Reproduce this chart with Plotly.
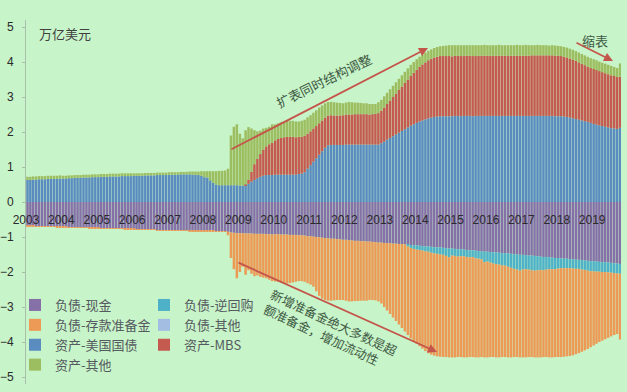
import pandas as pd
import plotly.graph_objects as go

# ---- categories: monthly observations Jan 2003 .. Oct 2019 ----
months = pd.date_range("2003-01-01", periods=202, freq="MS").strftime("%Y-%m-%d").tolist()
year_ticks = [f"{y}-01-01" for y in range(2003, 2020)]
year_labels = [str(y) for y in range(2003, 2020)]

# ---- assets (万亿美元) ----
treasuries = [
    0.63, 0.63, 0.64, 0.64, 0.65, 0.65, 0.65, 0.66, 0.66, 0.66, 0.66, 0.67,  # 2003
    0.67, 0.67, 0.68, 0.68, 0.69, 0.69, 0.69, 0.70, 0.70, 0.70, 0.71, 0.71,  # 2004
    0.71, 0.72, 0.72, 0.72, 0.73, 0.73, 0.73, 0.73, 0.74, 0.74, 0.74, 0.74,  # 2005
    0.75, 0.75, 0.75, 0.75, 0.76, 0.76, 0.76, 0.76, 0.77, 0.77, 0.77, 0.77,  # 2006
    0.78, 0.78, 0.78, 0.78, 0.79, 0.79, 0.79, 0.79, 0.78, 0.78, 0.77, 0.75,  # 2007
    0.71, 0.70, 0.62, 0.55, 0.50, 0.48, 0.48, 0.48, 0.48, 0.48, 0.48, 0.48,  # 2008
    0.47, 0.47, 0.48, 0.52, 0.58, 0.63, 0.68, 0.72, 0.75, 0.77, 0.77, 0.77,  # 2009
    0.78, 0.78, 0.78, 0.78, 0.78, 0.78, 0.78, 0.78, 0.80, 0.81, 0.85, 0.95,  # 2010
    1.05, 1.15, 1.25, 1.35, 1.45, 1.55, 1.62, 1.63, 1.63, 1.63, 1.63, 1.63,  # 2011
    1.64, 1.64, 1.64, 1.64, 1.64, 1.64, 1.64, 1.64, 1.64, 1.64, 1.64, 1.64,  # 2012
    1.68, 1.73, 1.78, 1.83, 1.88, 1.93, 1.98, 2.03, 2.08, 2.13, 2.18, 2.22,  # 2013
    2.26, 2.30, 2.33, 2.36, 2.39, 2.41, 2.43, 2.44, 2.45, 2.45, 2.45, 2.45,  # 2014
    2.45, 2.46, 2.46, 2.45, 2.46, 2.46, 2.46, 2.45, 2.46, 2.46, 2.46, 2.46,  # 2015
    2.46, 2.46, 2.46, 2.46, 2.46, 2.46, 2.46, 2.46, 2.46, 2.46, 2.46, 2.46,  # 2016
    2.46, 2.46, 2.46, 2.46, 2.46, 2.46, 2.46, 2.46, 2.46, 2.46, 2.46, 2.45,  # 2017
    2.45, 2.45, 2.44, 2.43, 2.41, 2.39, 2.37, 2.35, 2.33, 2.31, 2.29, 2.26,  # 2018
    2.23, 2.21, 2.19, 2.17, 2.15, 2.13, 2.11, 2.10, 2.09, 2.12,              # 2019
]
mbs = [0.0] * 72 + [
    0.00, 0.00, 0.02, 0.12, 0.28, 0.45, 0.55, 0.65, 0.75, 0.82, 0.88, 0.92,  # 2009
    0.98, 1.02, 1.05, 1.07, 1.08, 1.08, 1.08, 1.07, 1.06, 1.05, 1.04, 1.00,  # 2010
    0.97, 0.95, 0.92, 0.90, 0.88, 0.86, 0.85, 0.85, 0.84, 0.84, 0.84, 0.85,  # 2011
    0.86, 0.86, 0.86, 0.87, 0.87, 0.87, 0.87, 0.87, 0.86, 0.87, 0.88, 0.90,  # 2012
    0.93, 0.97, 1.02, 1.07, 1.12, 1.17, 1.22, 1.27, 1.32, 1.37, 1.42, 1.47,  # 2013
    1.52, 1.56, 1.60, 1.63, 1.66, 1.68, 1.70, 1.71, 1.72, 1.72, 1.72, 1.72,  # 2014
    1.71, 1.72, 1.72, 1.72, 1.71, 1.72, 1.72, 1.72, 1.71, 1.72, 1.72, 1.72,  # 2015
    1.72, 1.72, 1.71, 1.72, 1.72, 1.72, 1.72, 1.71, 1.72, 1.72, 1.72, 1.72,  # 2016
    1.72, 1.72, 1.72, 1.73, 1.73, 1.73, 1.73, 1.73, 1.73, 1.73, 1.73, 1.73,  # 2017
    1.73, 1.72, 1.71, 1.70, 1.69, 1.68, 1.66, 1.64, 1.62, 1.60, 1.58, 1.57,  # 2018
    1.57, 1.56, 1.55, 1.54, 1.53, 1.52, 1.51, 1.50, 1.48, 1.46,              # 2019
]
other_assets = [
    0.09, 0.09, 0.09, 0.09, 0.09, 0.09, 0.09, 0.09, 0.09, 0.09, 0.09, 0.09,  # 2003
    0.08, 0.08, 0.08, 0.08, 0.08, 0.08, 0.08, 0.08, 0.08, 0.08, 0.08, 0.08,  # 2004
    0.08, 0.08, 0.08, 0.08, 0.08, 0.08, 0.08, 0.08, 0.08, 0.08, 0.08, 0.08,  # 2005
    0.07, 0.07, 0.07, 0.07, 0.07, 0.07, 0.07, 0.07, 0.07, 0.07, 0.07, 0.07,  # 2006
    0.07, 0.07, 0.07, 0.07, 0.07, 0.07, 0.07, 0.08, 0.09, 0.09, 0.10, 0.13,  # 2007
    0.17, 0.18, 0.26, 0.33, 0.38, 0.41, 0.41, 0.42, 0.47, 1.42, 1.67, 1.74,  # 2008
    1.48, 1.35, 1.55, 1.50, 1.24, 0.97, 0.79, 0.67, 0.60, 0.53, 0.50, 0.53,  # 2009
    0.46, 0.45, 0.45, 0.45, 0.46, 0.46, 0.46, 0.45, 0.44, 0.46, 0.46, 0.47,  # 2010
    0.46, 0.45, 0.45, 0.45, 0.43, 0.41, 0.39, 0.38, 0.38, 0.37, 0.36, 0.34,  # 2011
    0.34, 0.36, 0.35, 0.33, 0.33, 0.32, 0.31, 0.31, 0.30, 0.29, 0.28, 0.31,  # 2012
    0.31, 0.32, 0.32, 0.32, 0.32, 0.32, 0.32, 0.32, 0.32, 0.32, 0.32, 0.31,  # 2013
    0.30, 0.29, 0.28, 0.28, 0.27, 0.27, 0.27, 0.28, 0.28, 0.29, 0.30, 0.31,  # 2014
    0.32, 0.30, 0.30, 0.31, 0.31, 0.30, 0.30, 0.31, 0.31, 0.30, 0.30, 0.31,  # 2015
    0.30, 0.30, 0.31, 0.30, 0.31, 0.30, 0.30, 0.31, 0.30, 0.30, 0.31, 0.30,  # 2016
    0.30, 0.31, 0.30, 0.29, 0.29, 0.30, 0.29, 0.29, 0.29, 0.28, 0.29, 0.29,  # 2017
    0.28, 0.28, 0.28, 0.28, 0.28, 0.28, 0.28, 0.28, 0.28, 0.28, 0.28, 0.28,  # 2018
    0.28, 0.28, 0.27, 0.27, 0.27, 0.27, 0.27, 0.26, 0.26, 0.38,              # 2019
]

# ---- liabilities (negative, 万亿美元) ----
currency = [
    -0.68, -0.68, -0.68, -0.69, -0.69, -0.69, -0.70, -0.70, -0.70, -0.70, -0.71, -0.71,  # 2003
    -0.71, -0.71, -0.72, -0.72, -0.72, -0.73, -0.73, -0.73, -0.73, -0.74, -0.74, -0.74,  # 2004
    -0.74, -0.75, -0.75, -0.75, -0.75, -0.76, -0.76, -0.76, -0.76, -0.77, -0.77, -0.77,  # 2005
    -0.77, -0.78, -0.78, -0.78, -0.79, -0.79, -0.79, -0.79, -0.80, -0.80, -0.80, -0.80,  # 2006
    -0.80, -0.80, -0.81, -0.81, -0.81, -0.81, -0.81, -0.82, -0.82, -0.82, -0.82, -0.82,  # 2007
    -0.82, -0.82, -0.82, -0.82, -0.83, -0.83, -0.83, -0.84, -0.85, -0.87, -0.88, -0.89,  # 2008
    -0.89, -0.89, -0.90, -0.90, -0.90, -0.91, -0.91, -0.91, -0.91, -0.92, -0.92, -0.93,  # 2009
    -0.92, -0.92, -0.93, -0.93, -0.93, -0.94, -0.94, -0.94, -0.95, -0.95, -0.96, -0.98,  # 2010
    -0.98, -0.99, -1.00, -1.01, -1.02, -1.03, -1.04, -1.05, -1.05, -1.06, -1.07, -1.08,  # 2011
    -1.08, -1.09, -1.10, -1.11, -1.11, -1.12, -1.12, -1.13, -1.13, -1.14, -1.15, -1.16,  # 2012
    -1.16, -1.17, -1.17, -1.18, -1.19, -1.19, -1.20, -1.20, -1.21, -1.22, -1.23, -1.24,  # 2013
    -1.24, -1.25, -1.26, -1.27, -1.27, -1.28, -1.29, -1.30, -1.30, -1.31, -1.32, -1.33,  # 2014
    -1.33, -1.34, -1.35, -1.35, -1.36, -1.37, -1.38, -1.38, -1.39, -1.40, -1.41, -1.42,  # 2015
    -1.42, -1.43, -1.44, -1.44, -1.45, -1.46, -1.46, -1.47, -1.48, -1.49, -1.50, -1.51,  # 2016
    -1.51, -1.52, -1.53, -1.53, -1.54, -1.55, -1.56, -1.57, -1.57, -1.58, -1.59, -1.60,  # 2017
    -1.60, -1.61, -1.62, -1.62, -1.63, -1.64, -1.65, -1.65, -1.66, -1.67, -1.68, -1.69,  # 2018
    -1.69, -1.70, -1.71, -1.72, -1.72, -1.73, -1.74, -1.75, -1.76, -1.77,                # 2019
]
reverse_repo = [0.0] * 120 + [
    0.00, 0.00, 0.00, 0.00, 0.00, 0.00, 0.00, 0.00, 0.00, -0.05, -0.08, -0.10,           # 2013
    -0.12, -0.12, -0.13, -0.14, -0.15, -0.17, -0.18, -0.18, -0.20, -0.20, -0.22, -0.25,  # 2014
    -0.20, -0.20, -0.21, -0.20, -0.19, -0.20, -0.20, -0.19, -0.22, -0.22, -0.23, -0.30,  # 2015
    -0.28, -0.30, -0.32, -0.33, -0.34, -0.35, -0.36, -0.38, -0.40, -0.42, -0.43, -0.45,  # 2016
    -0.42, -0.40, -0.40, -0.42, -0.42, -0.40, -0.38, -0.38, -0.36, -0.34, -0.33, -0.32,  # 2017
    -0.30, -0.28, -0.27, -0.27, -0.26, -0.26, -0.26, -0.26, -0.27, -0.27, -0.28, -0.29,  # 2018
    -0.29, -0.29, -0.28, -0.28, -0.28, -0.28, -0.28, -0.28, -0.28, -0.28,                # 2019
]
reserves = [-0.01] * 60 + [
    -0.01, -0.01, -0.01, -0.01, -0.01, -0.01, -0.01, -0.01, -0.10, -0.73, -1.04, -1.29,  # 2008
    -1.11, -0.96, -1.18, -1.05, -1.15, -1.21, -1.19, -1.23, -1.25, -1.26, -1.30, -1.33,  # 2009
    -1.35, -1.36, -1.37, -1.39, -1.40, -1.38, -1.36, -1.34, -1.31, -1.31, -1.32, -1.34,  # 2010
    -1.38, -1.43, -1.55, -1.67, -1.74, -1.77, -1.78, -1.77, -1.76, -1.74, -1.73, -1.72,  # 2011
    -1.74, -1.75, -1.74, -1.72, -1.72, -1.70, -1.70, -1.69, -1.67, -1.66, -1.66, -1.68,  # 2012
    -1.74, -1.83, -1.93, -2.02, -2.11, -2.21, -2.30, -2.40, -2.49, -2.53, -2.59, -2.64,  # 2013
    -2.69, -2.75, -2.80, -2.85, -2.90, -2.91, -2.92, -2.93, -2.92, -2.92, -2.89, -2.86,  # 2014
    -2.91, -2.90, -2.87, -2.88, -2.89, -2.87, -2.85, -2.86, -2.83, -2.82, -2.79, -2.72,  # 2015
    -2.74, -2.70, -2.67, -2.67, -2.65, -2.62, -2.61, -2.59, -2.56, -2.52, -2.50, -2.48,  # 2016
    -2.51, -2.52, -2.50, -2.48, -2.48, -2.49, -2.50, -2.48, -2.50, -2.52, -2.52, -2.51,  # 2017
    -2.53, -2.54, -2.53, -2.52, -2.51, -2.48, -2.44, -2.41, -2.35, -2.30, -2.24, -2.17,  # 2018
    -2.12, -2.06, -2.01, -1.96, -1.92, -1.87, -1.82, -1.77, -1.73, -1.88,                # 2019
]
other_liabilities = [0.0] * 202

for arr in (treasuries, mbs, other_assets, currency, reverse_repo, reserves, other_liabilities):
    assert len(arr) == len(months), len(arr)

# ---- styling ----
BG = "#c8f4c9"
TXT = "#3e5a44"
RED = "#c4554b"
FONT = "Noto Sans CJK SC, Noto Sans, sans-serif"

series = [
    ("负债-现金", currency, "#8570a8", "legend"),
    ("负债-逆回购", reverse_repo, "#4fb1c8", "legend2"),
    ("负债-存款准备金", reserves, "#ec9a55", "legend"),
    ("负债-其他", other_liabilities, "#a3bde2", "legend2"),
    ("资产-美国国债", treasuries, "#5a8cc0", "legend"),
    ("资产-MBS", mbs, "#c45a50", "legend2"),
    ("资产-其他", other_assets, "#9cbe60", "legend"),
]

fig = go.Figure()
for i, (name, vals, color, lg) in enumerate(series):
    fig.add_trace(go.Bar(
        x=months, y=vals, name=name,
        xperiod="M1", xperiodalignment="middle",
        marker=dict(color=color, line=dict(width=0)),
        legend=lg, legendgroup=f"g{i}",
    ))

W, H = 627, 392
PL, PR, PT, PB = 26, 621, 20, 384          # plot area in page pixels
L, R, T, B = PL, W - PR, PT, H - PB
PW, PH = W - L - R, H - T - B


def px(x):
    return (x - PL) / PW


def py(y):
    return (PB - y) / PH


legend_font = dict(family=FONT, size=13, color="#555a60")
fig.update_layout(
    width=W, height=H,
    margin=dict(l=L, r=R, t=T, b=B, autoexpand=False),
    barmode="relative", bargap=0.12,
    paper_bgcolor=BG, plot_bgcolor=BG,
    font=dict(family=FONT, color="#333333", size=12),
    xaxis=dict(
        type="date", range=["2003-01-01", "2019-10-26"],
        tickvals=year_ticks, ticktext=year_labels, tickangle=0,
        showgrid=False, zeroline=False, showline=False,
        anchor="free", position=0.5, ticks="",
        ticklabelstandoff=9, automargin=False,
        tickfont=dict(family="Liberation Sans, Arial", size=12, color="#2a2a2a"),
    ),
    yaxis=dict(
        range=[-5.2, 5.2], tickvals=[-5, -4, -3, -2, -1, 0, 1, 2, 3, 4, 5],
        showgrid=False, zeroline=False, automargin=False,
        showline=True, linecolor="#a9bfa9", linewidth=1,
        ticks="outside", ticklen=3, tickcolor="#a9bfa9",
        ticklabelstandoff=6,
        tickfont=dict(family="Liberation Sans, Arial", size=12, color="#2a2a2a"),
    ),
    legend=dict(
        x=px(15), y=py(290), xanchor="left", yanchor="top",
        bgcolor="rgba(0,0,0,0)", tracegroupgap=0, font=legend_font,
    ),
    legend2=dict(
        x=px(144), y=py(290), xanchor="left", yanchor="top",
        bgcolor="rgba(0,0,0,0)", tracegroupgap=0, font=legend_font,
    ),
    showlegend=True,
)

annotations = [
    dict(x=px(37), y=py(34), text="万亿美元", showarrow=False, xanchor="left", yanchor="middle",
         font=dict(family=FONT, size=13, color="#404040")),
    # arrows
    dict(x=px(428), y=py(48), ax=-198, ay=102, text="", showarrow=True,
         arrowhead=2, arrowsize=1, arrowwidth=1.8, arrowcolor=RED, standoff=0),
    dict(x=px(613), y=py(61), ax=-38, ay=-19, text="", showarrow=True,
         arrowhead=2, arrowsize=1, arrowwidth=1.8, arrowcolor=RED, standoff=0),
    dict(x=px(437), y=py(352), ax=-200, ay=-90, text="", showarrow=True,
         arrowhead=2, arrowsize=1, arrowwidth=1.8, arrowcolor=RED, standoff=0),
    # labels
    dict(x=px(324), y=py(81), text="扩表同时结构调整", showarrow=False, textangle=-26,
         xanchor="center", yanchor="middle", font=dict(family=FONT, size=13, color=TXT)),
    dict(x=px(595), y=py(40), text="缩表", showarrow=False,
         xanchor="center", yanchor="middle", font=dict(family=FONT, size=13, color=TXT)),
    dict(x=px(331), y=py(329), text="新增准备金绝大多数是超<br>额准备金，增加流动性", showarrow=False,
         textangle=25, align="left", xanchor="center", yanchor="middle",
         font=dict(family=FONT, size=12.5, color=TXT)),
]
for a in annotations:
    a.setdefault("xref", "paper")
    a.setdefault("yref", "paper")
fig.update_layout(annotations=annotations)

# remove the browser's default 8px page margin so the 627x392 figure fills the window
fig.write_html(
    "out.html",
    config={"displayModeBar": False},
    post_script="document.body.style.margin='0px';document.body.style.background='" + BG + "';",
)
